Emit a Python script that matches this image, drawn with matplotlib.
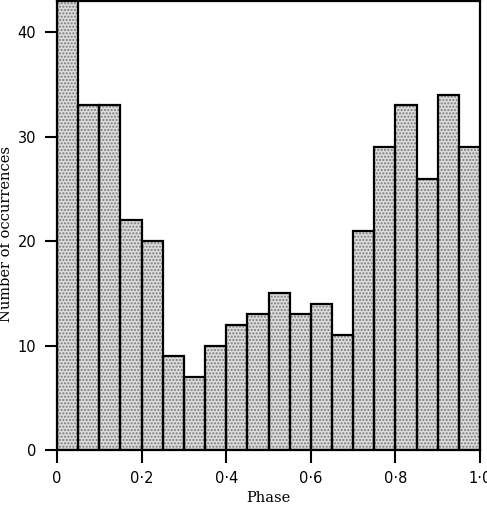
import numpy as np
import matplotlib
matplotlib.use('Agg')
import matplotlib.pyplot as plt

# histogram of phases, 20 bins of width 0.05
bin_left = [0.00, 0.05, 0.10, 0.15, 0.20, 0.25, 0.30, 0.35, 0.40, 0.45,
            0.50, 0.55, 0.60, 0.65, 0.70, 0.75, 0.80, 0.85, 0.90, 0.95]
counts = [45, 33, 33, 22, 20, 9, 7, 10, 12, 13,
          15, 13, 14, 11, 21, 29, 33, 26, 34, 29]
bin_width = 0.05

xticks = [0, 0.2, 0.4, 0.6, 0.8, 1.0]
xtick_labels = ['0', '0·2', '0·4', '0·6', '0·8', '1·0']
yticks = [0, 10, 20, 30, 40]

fig = plt.figure(figsize=(4.87, 5.07), dpi=100)
ax = fig.add_axes([57 / 487, 1 - 450 / 507, 423 / 487, 449 / 507])

# stippled fill, then black outlines on top
ax.bar(bin_left, counts, width=bin_width, align='edge', color='#dcdcdc',
       edgecolor='#7a7a7a', hatch='.....', linewidth=0)
ax.bar(bin_left, counts, width=bin_width, align='edge', fill=False,
       edgecolor='black', linewidth=1.6)

ax.set_xlim(0, 1.0)
ax.set_ylim(0, 43)

ax.set_xticks(xticks)
ax.set_xticklabels(xtick_labels)
ax.set_yticks(yticks)
ax.tick_params(direction='out', length=9, width=1.5, labelsize=10.5, pad=6)

for side in ['left', 'right', 'top', 'bottom']:
    ax.spines[side].set_linewidth(1.6)

ax.set_xlabel('Phase', family='DejaVu Serif', fontsize=10.5, labelpad=4)
ax.set_ylabel('Number of occurrences', family='DejaVu Serif', fontsize=10.5)
ax.yaxis.set_label_coords(-0.103, 0.48)

fig.savefig('out.png', dpi=100)
